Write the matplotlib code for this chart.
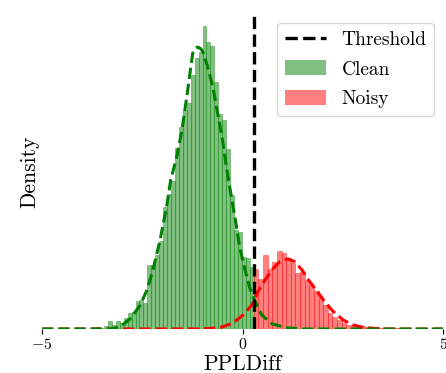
import numpy as np
from matplotlib import pyplot as plt
from matplotlib.lines import Line2D
from matplotlib.patches import Patch

plt.rcParams["font.family"] = "serif"
plt.rcParams["font.serif"] = ["cmr10"]
plt.rcParams["mathtext.fontset"] = "cm"
plt.rcParams["axes.formatter.use_mathtext"] = True

# --- data ---
threshold = 0.28
clean_range = (-3.65, threshold)
noisy_range = (threshold, 4.9)

clean_density = [0.003, 0.002, 0.005, 0.014, 0.007, 0.014, 0.010, 0.019, 0.028, 0.029,
                 0.048, 0.050, 0.045, 0.110, 0.110, 0.128, 0.152, 0.210, 0.233, 0.255,
                 0.312, 0.348, 0.378, 0.390, 0.438, 0.467, 0.478, 0.522, 0.495, 0.488,
                 0.426, 0.371, 0.360, 0.310, 0.231, 0.171, 0.167, 0.124, 0.122, 0.107]
noisy_density = [0.103, 0.086, 0.128, 0.103, 0.116, 0.134, 0.131, 0.122, 0.114, 0.097,
                 0.098, 0.084, 0.076, 0.066, 0.053, 0.041, 0.028, 0.021, 0.016, 0.010,
                 0.007, 0.005, 0.007, 0.005, 0.003, 0.003, 0.003, 0.002, 0.002, 0.002,
                 0.001, 0.001, 0.001, 0.0005, 0.0005, 0.0005, 0.0005, 0.0005, 0.0005, 0.0005]

# fitted density curves
clean_fit_x = [-5.0, -3.31, -3.14, -2.96, -2.81, -2.56, -2.39, -2.24, -2.06, -1.89, -1.79,
               -1.64, -1.51, -1.39, -1.31, -1.24, -1.19, -1.12, -1.04, -0.99, -0.87, -0.74,
               -0.62, -0.50, -0.39, -0.32, -0.19, -0.07, 0.06, 0.18, 0.31, 0.48, 0.73,
               1.11, 1.50, 5.0]
clean_fit_y = [0, 0, 0.002, 0.009, 0.017, 0.040, 0.066, 0.100, 0.152, 0.212, 0.257,
               0.297, 0.343, 0.400, 0.441, 0.476, 0.483, 0.486, 0.483, 0.478, 0.452, 0.417,
               0.372, 0.326, 0.274, 0.245, 0.193, 0.141, 0.103, 0.071, 0.048, 0.024, 0.009,
               0.002, 0, 0]
noisy_fit_x = [-5.0, -1.06, -0.57, -0.24, 0.01, 0.23, 0.38, 0.56, 0.73, 0.93, 1.13, 1.30,
               1.48, 1.65, 1.85, 2.05, 2.25, 2.50, 2.75, 3.00, 3.30, 3.67, 5.0]
noisy_fit_y = [0, 0, 0.002, 0.010, 0.024, 0.041, 0.064, 0.084, 0.102, 0.116, 0.121, 0.116,
               0.102, 0.084, 0.066, 0.047, 0.031, 0.016, 0.007, 0.003, 0.001, 0, 0]

x_ticks = [-5, 0, 5]

fig = plt.figure(figsize=(4.46, 3.73), dpi=100)
ax = fig.add_axes([0.0942, 0.118, 0.8991, 0.8445])


def draw_hist(values, lo_hi, color):
    edges = np.linspace(lo_hi[0], lo_hi[1], len(values) + 1)
    ax.bar(edges[:-1], values, width=np.diff(edges), align="edge",
           color=color, alpha=0.5, edgecolor=color, linewidth=0.5)


draw_hist(clean_density, clean_range, "green")
draw_hist(noisy_density, noisy_range, "red")

ax.plot(noisy_fit_x, noisy_fit_y, color="red", linestyle="--", linewidth=2.2)
ax.plot(clean_fit_x, clean_fit_y, color="green", linestyle="--", linewidth=2.2)
ax.axvline(threshold, color="black", linestyle="--", linewidth=2.4)

ax.set_xlim(-5, 5)
ax.set_ylim(0, 0.543)
ax.set_xticks(x_ticks)
ax.set_yticks([])
ax.tick_params(axis="x", labelsize=11.3, length=3.5, width=0.8, pad=2)
for side in ["left", "right", "top", "bottom"]:
    ax.spines[side].set_visible(False)

ax.set_xlabel("PPLDiff", fontsize=15.5, labelpad=2)
ax.set_ylabel("Density", fontsize=15.5, labelpad=2)

handles = [Line2D([0], [0], color="black", linestyle="--", linewidth=2.4),
           Patch(facecolor="green", alpha=0.5),
           Patch(facecolor="red", alpha=0.5)]
ax.legend(handles, ["Threshold", "Clean", "Noisy"], loc="upper right", fontsize=14,
          handlelength=2.1, handleheight=0.8, labelspacing=0.6, handletextpad=0.8,
          borderaxespad=0.45)

fig.savefig("out.png", dpi=100)
